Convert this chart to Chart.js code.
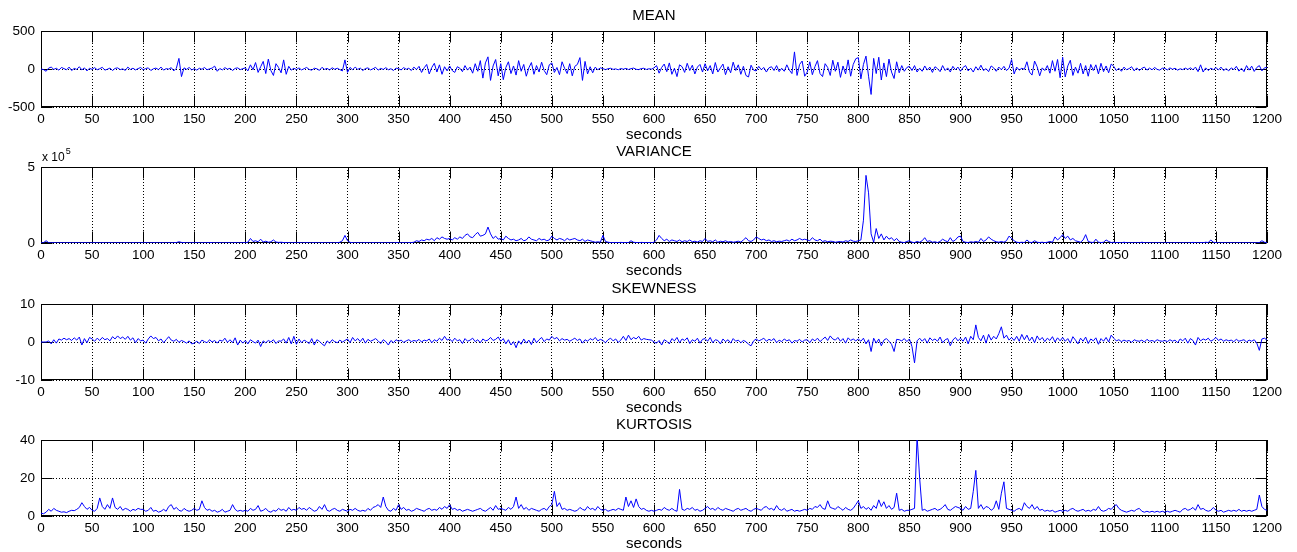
<!DOCTYPE html>
<html>
<head>
<meta charset="utf-8">
<script src="https://cdn.jsdelivr.net/npm/chart.js@4.4.1/dist/chart.umd.min.js"></script>
<style>
html,body{margin:0;padding:0;background:#fff;overflow:hidden;width:1297px;height:552px;}
.panel{position:absolute;left:0;width:1297px;height:144px;}
canvas{display:block;}
</style>
</head>
<body>
<div class="panel" style="top:0px"><canvas id="c0" width="1297" height="144"></canvas></div>
<div class="panel" style="top:136px"><canvas id="c1" width="1297" height="144"></canvas></div>
<div class="panel" style="top:273px"><canvas id="c2" width="1297" height="144"></canvas></div>
<div class="panel" style="top:409px"><canvas id="c3" width="1297" height="144"></canvas></div>
<script>
// ---- sampling grid (seconds) ----
const SAMPLE_STEP = 2.5;   // seconds between read-off samples
const xTickValues = [0,50,100,150,200,250,300,350,400,450,500,550,600,650,700,750,800,850,900,950,1000,1050,1100,1150,1200];

// ---- panel titles and y tick values ----
const panelTitles = ['MEAN','VARIANCE','SKEWNESS','KURTOSIS'];
const meanTicks = [-500,0,500];
const varianceTicks = [0,5];          // in units of 10^5
const skewTicks = [-10,0,10];
const kurtTicks = [0,20,40];

// ---- MEAN (one row per 50 s) ----
const meanValues = [
 0,-8,-30,12,25,-5,10,-15,20,5,-10,25,-20,8,-5,30,-12,15,-25,10,
 -5,18,-10,4,22,-15,-3,12,-20,8,15,-8,2,-18,25,-6,10,-12,5,20,
 -10,6,15,-20,3,12,-8,25,-15,5,-2,18,-25,10,140,-100,15,-5,20,-12,
 5,-15,10,-4,20,-10,2,12,38,-30,6,-12,18,-3,10,-20,8,15,-8,4,
 15,-25,55,-10,85,-45,30,100,-60,130,-20,-85,70,20,-50,120,-70,35,-15,10,
 -8,15,-12,4,20,-6,-15,10,3,-18,22,-5,8,-12,16,-4,10,-8,-25,120,
 -45,20,-10,25,-5,12,-20,6,15,-12,3,22,-15,8,-6,18,-10,4,-20,12,
 5,-12,18,-4,10,-20,25,-8,35,-45,15,60,-65,20,75,-40,55,-70,30,-25,
 40,-20,-45,30,10,-35,45,-15,25,-55,70,-30,110,-120,80,160,-150,40,125,-90,
 70,-140,20,95,-60,40,-80,110,-30,60,-95,15,85,-70,45,-40,90,-20,-75,55,
 80,-45,20,-75,95,10,-60,70,-90,35,60,150,-150,100,-65,30,-50,25,-10,15,
 5,-8,3,10,-5,2,-10,6,-3,8,-6,4,12,-4,-8,5,10,-6,3,-2,
 15,45,-55,20,65,-35,80,-70,10,-100,55,30,-45,75,-20,50,-65,25,60,-40,
 70,-25,45,-65,85,-40,15,65,-75,30,-50,90,-20,55,-70,35,-85,-105,50,-15,
 -25,35,-10,20,-40,15,30,-20,45,-35,10,-30,55,-15,-60,225,-85,60,105,-95,
 -40,95,-75,30,110,-60,-100,70,20,-85,115,-30,90,-110,40,-65,120,-95,60,135,
 150,-130,60,170,-95,-335,140,-60,155,-145,80,-100,130,-40,-125,95,-50,45,-30,20,
 35,-20,45,-40,10,-30,40,-15,25,-45,30,5,-35,45,-20,15,-40,35,-10,25,
 -30,20,45,-25,10,-40,30,-15,50,-20,5,-35,40,15,-30,25,-10,35,-20,10,
 125,-65,25,-15,10,-5,95,-40,-80,105,30,-90,15,-20,45,-55,110,-30,125,-115,
 155,-105,40,115,-85,25,-55,75,-65,45,-95,60,-20,55,-65,75,-35,40,-50,65,
 35,-20,10,-30,25,-10,5,30,-25,15,-20,8,25,-15,12,-10,20,-5,-15,10,
 8,-12,15,-4,10,-15,3,-8,12,-6,15,-10,25,-35,55,-40,15,-20,10,-8,
 18,-12,25,-20,5,-25,15,-8,35,-28,10,-35,45,-15,38,-32,20,45,-25,15,
 20
];

// ---- VARIANCE (x 10^5) ----
const varianceValues = [
 0.01,0.02,0.15,0.02,0.01,0.02,0.01,0.01,0.02,0.01,0.01,0.02,0.01,0.01,0.02,0.01,0.01,0.02,0.01,0.01,
 0.01,0.02,0.01,0.01,0.02,0.01,0.01,0.02,0.01,0.01,0.02,0.01,0.01,0.02,0.01,0.01,0.02,0.01,0.01,0.02,
 0.01,0.02,0.01,0.01,0.02,0.01,0.01,0.02,0.01,0.01,0.02,0.01,0.02,0.03,0.08,0.04,0.02,0.01,0.01,0.02,
 0.01,0.02,0.01,0.01,0.02,0.01,0.03,0.02,0.01,0.01,0.02,0.01,0.01,0.02,0.01,0.01,0.02,0.01,0.01,0.02,
 0.02,0.05,0.3,0.1,0.15,0.08,0.25,0.06,0.12,0.05,0.08,0.2,0.06,0.04,0.05,0.03,0.02,0.02,0.01,0.02,
 0.01,0.02,0.01,0.01,0.02,0.01,0.01,0.02,0.01,0.01,0.02,0.01,0.01,0.02,0.01,0.01,0.02,0.05,0.15,0.5,
 0.15,0.04,0.02,0.01,0.02,0.01,0.01,0.02,0.01,0.01,0.02,0.01,0.01,0.02,0.01,0.01,0.02,0.01,0.01,0.02,
 0.02,0.01,0.02,0.01,0.02,0.03,0.05,0.15,0.1,0.2,0.15,0.25,0.2,0.3,0.15,0.35,0.25,0.4,0.3,0.25,
 0.3,0.2,0.35,0.25,0.4,0.3,0.5,0.6,0.4,0.35,0.55,0.7,0.45,0.5,0.6,1.05,0.6,0.3,0.45,0.25,
 0.3,0.2,0.45,0.3,0.2,0.25,0.15,0.2,0.3,0.15,0.2,0.4,0.25,0.2,0.15,0.3,0.2,0.25,0.15,0.2,
 0.45,0.3,0.2,0.3,0.25,0.15,0.3,0.2,0.25,0.3,0.2,0.15,0.25,0.1,0.2,0.15,0.1,0.05,0.08,0.05,
 0.5,0.1,0.05,0.03,0.02,0.03,0.02,0.04,0.03,0.02,0.03,0.15,0.05,0.03,0.02,0.04,0.03,0.02,0.03,0.02,
 0.05,0.2,0.5,0.3,0.15,0.25,0.1,0.2,0.15,0.1,0.2,0.08,0.15,0.1,0.2,0.08,0.12,0.06,0.15,0.1,
 0.3,0.1,0.15,0.08,0.2,0.05,0.12,0.08,0.15,0.06,0.1,0.05,0.08,0.12,0.06,0.2,0.35,0.15,0.1,0.2,
 0.4,0.3,0.2,0.25,0.15,0.2,0.1,0.15,0.08,0.12,0.1,0.15,0.2,0.12,0.25,0.15,0.2,0.3,0.2,0.25,
 0.2,0.15,0.35,0.2,0.15,0.25,0.1,0.15,0.08,0.12,0.1,0.05,0.08,0.1,0.06,0.15,0.1,0.2,0.12,0.1,
 0.15,0.2,1.5,4.45,3.3,0.6,0.05,0.95,0.3,0.6,0.2,0.45,0.25,0.35,0.15,0.3,0.1,0.05,0.03,0.1,
 0.15,0.05,0.03,0.1,0.05,0.15,0.35,0.1,0.15,0.05,0.08,0.03,0.1,0.25,0.15,0.08,0.35,0.1,0.2,0.4,
 0.45,0.1,0.05,0.03,0.08,0.05,0.1,0.05,0.3,0.1,0.2,0.4,0.25,0.15,0.08,0.05,0.1,0.05,0.15,0.45,
 0.3,0.15,0.05,0.03,0.05,0.03,0.2,0.05,0.03,0.15,0.05,0.03,0.05,0.02,0.05,0.1,0.05,0.4,0.2,0.35,
 0.55,0.3,0.45,0.2,0.3,0.15,0.1,0.05,0.2,0.55,0.1,0.05,0.03,0.25,0.05,0.03,0.05,0.2,0.1,0.03,
 0.05,0.02,0.03,0.01,0.05,0.02,0.01,0.02,0.01,0.02,0.01,0.05,0.02,0.01,0.02,0.01,0.01,0.02,0.01,0.01,
 0.01,0.02,0.01,0.01,0.02,0.01,0.01,0.02,0.01,0.01,0.02,0.04,0.02,0.01,0.03,0.02,0.05,0.03,0.2,0.05,
 0.02,0.01,0.01,0.02,0.01,0.01,0.02,0.01,0.01,0.02,0.01,0.01,0.02,0.01,0.01,0.02,0.01,0.03,0.15,0.05,
 0.02
];

// ---- SKEWNESS ----
const skewValues = [
 0,0,0,0.3,-0.5,0.6,-0.3,0.8,0.5,1.0,0.6,0.9,0.4,1.1,0.5,1.3,-0.8,0.9,-0.2,1.2,
 0.8,0.2,1.0,0.4,1.2,0.6,0.9,0.3,1.4,0.8,1.6,0.9,1.3,0.7,1.5,0.5,1.1,-0.2,0.9,0.3,
 0.5,-0.3,0.8,1.6,0.9,1.2,0.3,0.8,-0.2,0.6,1.4,0.5,0.2,0.7,-0.1,0.4,0.1,-0.3,0.3,-0.5,
 -0.3,0.2,-0.4,0.5,0.1,-0.2,0.6,0.0,0.4,-0.3,0.5,0.2,1.0,-0.1,0.6,-0.2,1.1,-0.8,0.5,-0.3,
 0.4,-0.5,0.6,0.1,-0.3,0.5,-1.2,0.3,-0.2,0.4,0.0,0.6,-0.4,0.3,0.2,0.8,-0.3,1.2,-0.5,1.5,
 -0.6,0.8,-0.2,0.5,0.1,-0.4,0.9,-0.8,0.6,0.2,-0.5,-1.0,0.3,-0.3,0.6,0.1,-0.2,0.5,0.0,0.4,
 0.8,-0.2,1.2,0.3,0.9,0.1,1.0,-0.3,0.7,0.2,0.5,0.9,0.3,-0.4,0.6,0.1,-0.8,0.4,-0.2,0.6,
 0.2,0.5,-0.1,0.3,0.6,0.1,0.4,0.2,0.7,0.0,0.5,0.3,0.8,-0.2,0.6,0.2,1.0,0.4,1.5,0.5,
 0.8,0.1,1.0,0.3,0.6,-0.4,0.9,0.2,0.5,1.0,0.1,0.6,-0.2,0.8,0.3,0.5,1.2,0.4,0.7,1.3,
 0.2,0.9,-0.5,0.6,-0.8,0.1,-1.5,0.3,-0.6,0.8,-0.3,0.5,-0.7,1.0,-0.2,0.6,1.2,0.1,0.8,0.5,
 1.5,0.8,1.2,0.3,0.9,0.5,0.7,0.2,0.6,1.0,0.4,0.8,-0.3,0.6,0.2,0.9,0.5,1.2,0.3,0.7,
 0.4,-0.2,0.6,1.0,0.3,0.8,-0.1,0.5,1.5,0.4,1.8,0.6,1.2,0.8,1.5,0.5,0.9,0.7,0.6,0.5,
 0.0,-0.3,0.4,-0.8,0.6,0.2,-0.5,0.9,0.3,1.2,-0.2,0.8,0.4,1.1,-0.4,0.6,0.2,1.0,-0.3,0.7,
 0.9,0.2,1.2,-0.2,0.6,0.4,-0.5,0.8,0.1,0.6,-0.3,0.9,0.2,0.5,-0.2,0.4,0.1,-0.6,-1.0,0.3,
 0.8,0.3,0.6,1.0,0.2,0.7,0.4,0.9,-0.2,0.5,0.1,0.8,0.3,0.6,-0.3,0.4,0.2,0.7,0.0,0.5,
 0.6,-0.2,0.8,0.3,1.0,0.1,0.7,1.3,0.4,1.6,0.8,0.5,1.2,0.2,0.9,-0.3,1.1,0.4,0.8,0.3,
 0.8,0.2,1.0,-0.5,0.6,-2.5,1.0,-0.3,0.8,-1.0,0.5,0.9,0.2,-0.6,-2.5,0.7,0.6,0.3,0.9,0.1,
 0.8,-1.2,-5.5,0.3,1.0,0.2,0.9,-0.3,1.1,0.4,0.8,0.2,1.3,-0.2,0.6,0.9,-1.0,0.5,1.2,0.3,
 1.0,0.2,1.3,-0.5,1.5,0.6,4.5,1.2,0.3,1.8,-0.3,2.0,0.5,1.5,0.8,2.2,4.0,1.0,1.8,0.5,
 1.2,0.4,1.5,0.2,2.0,0.6,1.8,0.3,1.3,-0.2,1.6,0.5,1.2,0.1,1.0,0.4,1.4,0.0,1.1,0.3,
 1.2,0.2,0.9,-0.3,1.4,0.5,-0.5,1.0,0.2,1.3,-0.4,0.8,0.3,1.1,-0.6,0.9,0.2,1.2,0.0,1.8,
 1.0,0.3,0.6,0.1,0.5,0.2,0.4,-0.1,0.6,0.3,0.2,0.5,0.0,0.7,0.2,0.4,0.1,0.6,0.3,0.2,
 0.4,0.1,0.6,0.2,0.5,-0.2,0.8,0.3,1.0,-0.3,0.9,0.4,-0.8,1.2,0.3,0.8,0.5,1.0,0.2,0.6,
 1.2,0.4,0.8,0.2,0.6,0.3,0.5,0.1,0.7,0.2,0.4,0.6,0.0,0.5,0.2,0.6,-0.3,-2.2,0.8,1.0,
 0.5
];

// ---- KURTOSIS ----
const kurtValues = [
 1.5,1.2,2.0,3.5,2.5,4.0,3.0,2.5,2.0,2.2,1.8,2.5,3.0,2.8,3.5,4.5,7.0,5.0,3.5,4.5,
 3.0,2.5,4.0,9.5,5.0,3.5,6.0,4.0,9.5,4.5,3.5,5.0,3.0,4.0,3.5,2.5,3.5,3.0,4.0,3.5,
 3.5,2.5,3.0,4.5,2.5,3.0,2.0,2.5,3.5,2.5,5.0,6.0,3.5,4.5,3.0,2.5,4.0,3.0,2.5,3.0,
 4.0,3.0,3.5,8.0,4.5,3.0,3.5,2.5,3.0,2.0,2.5,3.5,2.0,2.5,3.0,6.0,3.5,2.5,3.0,2.5,
 3.0,2.5,4.0,3.0,3.5,5.5,2.5,3.0,4.0,2.5,2.0,3.0,2.5,4.0,3.0,3.5,2.5,4.5,3.0,3.5,
 3.0,4.5,3.5,4.0,3.0,4.5,3.5,2.5,3.0,5.0,3.5,6.0,3.0,2.5,3.5,4.0,3.0,2.5,3.5,3.0,
 2.5,3.5,3.0,4.0,3.0,2.5,3.0,2.5,4.0,3.0,4.5,5.0,6.0,4.5,10.0,5.0,3.0,2.5,4.0,3.0,
 6.0,3.5,4.5,3.0,3.5,2.5,3.0,4.0,3.5,3.0,2.5,3.5,4.0,3.0,3.5,3.0,4.5,3.5,5.0,4.0,
 6.0,3.5,4.0,3.0,3.5,2.5,3.0,3.5,3.0,2.5,3.0,3.5,4.0,3.0,2.5,3.5,4.5,3.0,5.5,3.5,
 4.0,3.5,3.0,4.5,3.5,5.0,10.0,4.0,6.0,3.5,4.5,3.0,4.0,3.5,3.0,2.5,3.5,4.0,3.0,5.0,
 6.0,13.0,5.0,7.0,3.5,4.0,3.0,3.5,3.0,2.5,3.0,4.5,3.5,3.0,5.0,3.5,4.0,3.0,5.0,3.5,
 3.0,3.5,2.5,3.0,3.5,3.0,4.0,3.5,3.0,10.0,5.0,8.0,4.5,9.0,5.0,3.5,4.0,3.0,2.5,3.0,
 2.5,3.0,3.5,3.0,4.5,3.5,3.0,4.0,3.0,2.5,14.0,3.5,3.0,4.0,3.5,4.5,3.0,3.5,2.5,3.0,
 4.0,5.0,3.5,4.0,3.0,4.5,3.5,3.0,4.0,3.5,3.0,2.5,3.5,4.0,3.0,3.5,4.0,3.0,2.5,3.5,
 4.0,3.5,3.0,4.5,5.0,3.5,4.0,3.0,5.5,3.5,3.0,4.0,2.5,3.0,3.5,2.5,3.0,2.5,3.0,3.5,
 3.0,4.0,3.5,5.0,4.5,6.0,4.0,3.5,8.0,4.5,4.0,3.5,5.0,4.0,3.0,4.5,3.5,3.0,4.0,6.0,
 8.0,4.0,5.0,3.5,4.5,3.0,5.5,4.0,8.5,5.0,7.5,4.0,5.5,3.5,4.5,12.0,3.0,3.5,2.5,3.0,
 3.0,3.5,4.0,42.0,20.0,3.0,3.5,2.5,3.0,3.5,4.0,3.0,3.5,4.5,6.0,3.5,3.0,4.0,5.0,4.5,
 4.0,3.0,5.0,3.5,4.0,13.0,24.0,4.0,6.0,3.5,5.0,4.5,3.0,4.0,8.0,3.5,12.0,18.0,4.0,3.5,
 3.0,2.5,3.5,4.0,3.0,7.0,5.0,4.0,6.0,3.5,5.0,3.0,3.5,2.5,3.0,2.5,3.0,2.0,2.5,3.0,
 2.5,3.0,2.5,3.5,4.0,3.0,2.5,3.0,3.5,2.5,3.0,2.5,3.5,3.0,5.0,3.0,2.5,3.0,4.0,3.5,
 5.0,6.0,4.0,3.0,2.5,2.0,2.5,3.0,2.5,3.5,4.0,2.5,2.0,2.5,2.0,2.5,2.0,2.5,2.0,2.5,
 2.0,2.5,2.0,2.5,3.0,2.5,2.0,3.5,4.0,3.0,3.5,4.5,3.0,6.0,3.5,4.0,3.0,2.5,3.0,4.5,
 3.0,2.5,3.0,2.0,2.5,3.0,2.5,3.0,2.5,3.5,2.5,3.0,2.5,3.0,2.5,3.0,3.5,11.0,5.0,3.5,
 3.0
];

// ---------------- rendering ----------------
Chart.defaults.font.family = "'Liberation Sans', Arial, Helvetica, sans-serif";
Chart.defaults.color = '#000';

const TICK_LEN = 11;
const axesBox = {
  id: 'axesBox',
  beforeDatasetsDraw(chart) {
    const {ctx, chartArea, scales} = chart;
    const L = Math.round(chartArea.left) + 0.5, R = Math.round(chartArea.right) - 0.5;
    const T = Math.round(chartArea.top) + 0.5, B = Math.round(chartArea.bottom) - 0.5;
    ctx.save();
    ctx.strokeStyle = '#000';
    ctx.lineWidth = 1;
    ctx.setLineDash([]);
    ctx.beginPath();
    scales.x.ticks.forEach(t => {
      const px = Math.round(scales.x.getPixelForValue(t.value)) + 0.5;
      ctx.moveTo(px, T); ctx.lineTo(px, T + TICK_LEN);
      ctx.moveTo(px, B); ctx.lineTo(px, B - TICK_LEN);
    });
    scales.y.ticks.forEach(t => {
      const py = Math.round(scales.y.getPixelForValue(t.value)) + 0.5;
      ctx.moveTo(L, py); ctx.lineTo(L + TICK_LEN, py);
      ctx.moveTo(R, py); ctx.lineTo(R - TICK_LEN, py);
    });
    ctx.stroke();
    ctx.strokeRect(L, T, R - L, B - T);
    ctx.restore();
  }
};

const exponentLabel = {
  id: 'exponentLabel',
  afterDraw(chart, args, opts) {
    if (!opts || !opts.exp) return;
    const {ctx, chartArea} = chart;
    ctx.save();
    ctx.fillStyle = '#000';
    ctx.textBaseline = 'alphabetic';
    ctx.font = "12px 'Liberation Sans', Arial, sans-serif";
    ctx.fillText('x 10', chartArea.left + 1, chartArea.top - 6);
    const w = ctx.measureText('x 10').width;
    ctx.font = "9px 'Liberation Sans', Arial, sans-serif";
    ctx.fillText(opts.exp, chartArea.left + 2 + w, chartArea.top - 13);
    ctx.restore();
  }
};

const seconds = meanValues.map((_, i) => i * SAMPLE_STEP);

function makePanel(id, title, values, yTicks, exp) {
  const pts = seconds.map((t, i) => ({x: t, y: values[i]}));
  return new Chart(document.getElementById(id), {
    type: 'line',
    data: { datasets: [{
      data: pts, borderColor: '#0000ff', borderWidth: 1, pointRadius: 0,
      fill: false, tension: 0
    }]},
    options: {
      responsive: false, animation: false, devicePixelRatio: 1, events: [],
      layout: { padding: { left: 0, right: 30, top: 0, bottom: 0 } },
      plugins: {
        legend: { display: false },
        tooltip: { enabled: false },
        title: { display: true, fullSize: false, text: title, color: '#000',
                 font: { size: 15, weight: 'normal', lineHeight: 1.2 }, padding: { top: 7, bottom: 6 } },
        exponentLabel: { exp: exp || null }
      },
      scales: {
        x: {
          type: 'linear', min: 0, max: 1200,
          afterBuildTicks: s => { s.ticks = xTickValues.map(v => ({value: v})); },
          afterFit: s => { s.height = 37; s.paddingLeft = 0; s.paddingRight = 0; },
          ticks: { autoSkip: false, maxRotation: 0, minRotation: 0, padding: 4,
                   color: '#000', font: { size: 13.5 }, callback: v => String(v) },
          grid: { color: '#000', lineWidth: 1, drawTicks: false },
          border: { display: false, dash: [1, 2] },
          title: { display: true, text: 'seconds', color: '#000',
                   font: { size: 15, lineHeight: 1.2 }, padding: { top: 0, bottom: 0 } }
        },
        y: {
          type: 'linear', min: yTicks[0], max: yTicks[yTicks.length - 1],
          afterBuildTicks: s => { s.ticks = yTicks.map(v => ({value: v})); },
          afterFit: s => { s.width = 41; },
          ticks: { padding: 6, color: '#000', font: { size: 13.5 }, callback: v => String(v) },
          grid: { color: '#000', lineWidth: 1, drawTicks: false },
          border: { display: false, dash: [1, 2] }
        }
      }
    },
    plugins: [axesBox, exponentLabel]
  });
}

makePanel('c0', panelTitles[0], meanValues, meanTicks);
makePanel('c1', panelTitles[1], varianceValues, varianceTicks, '5');
makePanel('c2', panelTitles[2], skewValues, skewTicks);
makePanel('c3', panelTitles[3], kurtValues, kurtTicks);
</script>
</body>
</html>
